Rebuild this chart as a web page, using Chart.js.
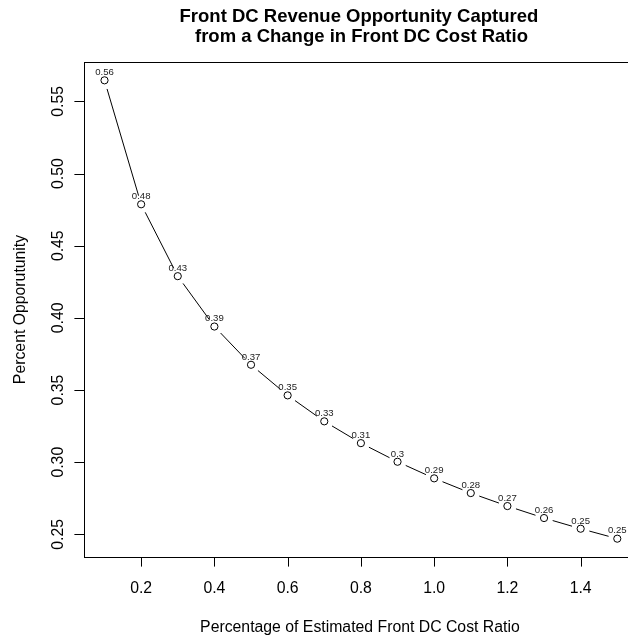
<!DOCTYPE html>
<html><head><meta charset="utf-8">
<script src="https://cdn.jsdelivr.net/npm/chart.js@4"></script>
<style>
html,body{margin:0;padding:0;background:#fff;overflow:hidden;width:628px;height:638px}
#wrap{position:relative;width:650px;height:638px}
</style>
</head><body><div id="wrap"><canvas id="c" width="650" height="638"></canvas></div>
<script>
const costRatio = [0.1,0.2,0.3,0.4,0.5,0.6,0.7,0.8,0.9,1.0,1.1,1.2,1.3,1.4,1.5];
const opportunity = [0.5646,0.4787,0.4289,0.3940,0.3675,0.3463,0.3283,0.3132,0.3003,0.2888,0.2786,0.2696,0.2613,0.2539,0.2470];
const pointLabels = ["0.56","0.48","0.43","0.39","0.37","0.35","0.33","0.31","0.3","0.29","0.28","0.27","0.26","0.25","0.25"];
const xTicks = [0.2,0.4,0.6,0.8,1.0,1.2,1.4];
const xTickLabels = ["0.2","0.4","0.6","0.8","1.0","1.2","1.4"];
const yTicks = [0.25,0.30,0.35,0.40,0.45,0.50,0.55];
const yTickLabels = ["0.25","0.30","0.35","0.40","0.45","0.50","0.55"];
const titleLines = ["Front DC Revenue Opportunity Captured"," from a Change in Front DC Cost Ratio"];
const xTitle = "Percentage of Estimated Front DC Cost Ratio";
const yTitle = "Percent Opporutunity";

const FONT = '"Liberation Sans", Arial, Helvetica, sans-serif';

const rStyle = {
  id: 'rStyle',
  beforeDatasetsDraw(chart) {
    const ctx = chart.ctx;
    const pts = chart.getDatasetMeta(0).data;
    const gap = 9;
    ctx.save();
    ctx.strokeStyle = '#000';
    ctx.lineWidth = 1;
    ctx.beginPath();
    for (let i = 0; i < pts.length - 1; i++) {
      const a = pts[i], b = pts[i + 1];
      const dx = b.x - a.x, dy = b.y - a.y;
      const d = Math.hypot(dx, dy);
      if (d <= 2 * gap) continue;
      const ux = dx / d, uy = dy / d;
      ctx.moveTo(a.x + ux * gap, a.y + uy * gap);
      ctx.lineTo(b.x - ux * gap, b.y - uy * gap);
    }
    ctx.stroke();
    ctx.restore();
  },
  afterDatasetsDraw(chart) {
    const ctx = chart.ctx;
    const pts = chart.getDatasetMeta(0).data;
    ctx.save();
    ctx.fillStyle = '#222';
    ctx.font = '9.6px ' + FONT;
    ctx.textAlign = 'center';
    ctx.textBaseline = 'alphabetic';
    pts.forEach((p, i) => {
      ctx.fillText(pointLabels[i], p.x, p.y - 5.2);
    });
    ctx.restore();
  },
  afterDraw(chart) {
    const ctx = chart.ctx;
    const a = chart.chartArea;
    const xs = chart.scales.x, ys = chart.scales.y;
    ctx.save();
    ctx.strokeStyle = '#000';
    ctx.lineWidth = 1;
    // box
    ctx.strokeRect(Math.round(a.left) + 0.5, Math.round(a.top) + 0.5,
                   Math.round(a.right - a.left), Math.round(a.bottom - a.top));
    // x ticks
    ctx.fillStyle = '#000';
    ctx.font = '15.8px ' + FONT;
    ctx.textAlign = 'center';
    ctx.textBaseline = 'alphabetic';
    ctx.beginPath();
    xTicks.forEach((v, i) => {
      const x = Math.round(xs.getPixelForValue(v)) + 0.5;
      ctx.moveTo(x, a.bottom);
      ctx.lineTo(x, a.bottom + 9.6);
    });
    ctx.stroke();
    xTicks.forEach((v, i) => {
      ctx.fillText(xTickLabels[i], xs.getPixelForValue(v), 593);
    });
    // y ticks
    ctx.beginPath();
    yTicks.forEach((v) => {
      const y = Math.round(ys.getPixelForValue(v)) + 0.5;
      ctx.moveTo(a.left, y);
      ctx.lineTo(a.left - 9.6, y);
    });
    ctx.stroke();
    yTicks.forEach((v, i) => {
      ctx.save();
      ctx.translate(63.3, ys.getPixelForValue(v));
      ctx.rotate(-Math.PI / 2);
      ctx.fillText(yTickLabels[i], 0, 0);
      ctx.restore();
    });
    // axis titles
    ctx.fillText(xTitle, (a.left + a.right) / 2 - 1, 631.5);
    ctx.save();
    ctx.translate(24.5, (a.top + a.bottom) / 2);
    ctx.rotate(-Math.PI / 2);
    ctx.fillText(yTitle, 0, 0);
    ctx.restore();
    // main title
    ctx.font = 'bold 18.5px ' + FONT;
    const cx = (a.left + a.right) / 2 - 2;
    ctx.fillText(titleLines[0], cx, 21.5);
    ctx.fillText(titleLines[1], cx, 41.5);
    ctx.restore();
  }
};

new Chart(document.getElementById('c'), {
  type: 'scatter',
  data: {
    datasets: [{
      data: costRatio.map((x, i) => ({ x: x, y: opportunity[i] })),
      showLine: false,
      pointRadius: 3.6,
      pointHoverRadius: 3.6,
      pointBorderWidth: 1,
      pointBorderColor: '#000',
      pointBackgroundColor: 'rgba(0,0,0,0)'
    }]
  },
  options: {
    responsive: false,
    animation: false,
    devicePixelRatio: 1,
    events: [],
    layout: { padding: { left: 0, right: 12.2, top: 62, bottom: 0 } },
    plugins: { legend: { display: false }, title: { display: false }, tooltip: { enabled: false } },
    scales: {
      x: {
        type: 'linear', min: 0.044, max: 1.556,
        grid: { display: false }, border: { display: false },
        ticks: { display: false },
        afterFit(s) { s.height = 81; }
      },
      y: {
        type: 'linear', min: 0.2343, max: 0.5773,
        grid: { display: false }, border: { display: false },
        ticks: { display: false },
        afterFit(s) { s.width = 84; }
      }
    }
  },
  plugins: [rStyle]
});
</script>
</body></html>
